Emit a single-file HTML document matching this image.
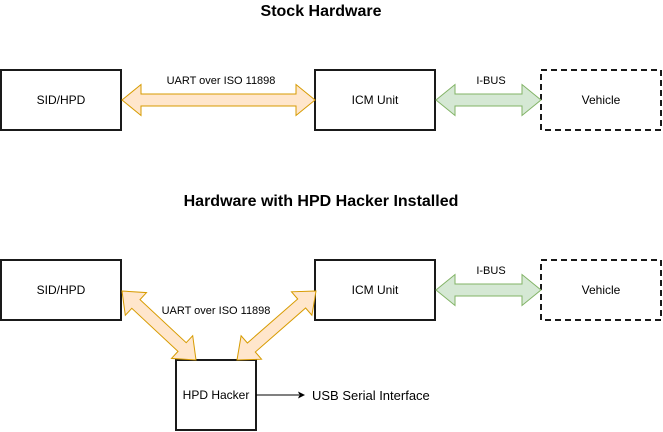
<!DOCTYPE html>
<html><head><meta charset="utf-8"><style>
html,body{margin:0;padding:0;background:#fff;}
svg{display:block;font-family:"Liberation Sans",sans-serif;}
</style></head><body>
<svg id="s" width="663" height="432" viewBox="0 0 663 432" xmlns="http://www.w3.org/2000/svg">
<text x="321" y="16" font-size="16" font-weight="bold" text-anchor="middle">Stock Hardware</text>
<text x="321" y="206" font-size="16" font-weight="bold" text-anchor="middle">Hardware with HPD Hacker Installed</text>
<g fill="#fff" stroke="#1a1a1a" stroke-width="2">
<rect x="1" y="70" width="120" height="60"/>
<rect x="315" y="70" width="120" height="60"/>
<rect x="541" y="70" width="120" height="60" stroke-dasharray="6 4"/>
<rect x="1" y="260" width="120" height="60"/>
<rect x="315" y="260" width="120" height="60"/>
<rect x="541" y="260" width="120" height="60" stroke-dasharray="6 4"/>
<rect x="176" y="360" width="80" height="70"/>
</g>
<g id="arrows"></g>
<g font-size="12" text-anchor="middle" fill="#000">
<text x="61" y="104">SID/HPD</text>
<text x="375" y="104">ICM Unit</text>
<text x="601" y="104">Vehicle</text>
<text x="61" y="294">SID/HPD</text>
<text x="375" y="294">ICM Unit</text>
<text x="601" y="294">Vehicle</text>
<text x="216" y="399">HPD Hacker</text>
</g>
<g font-size="11" text-anchor="middle">
<text x="221" y="84">UART over ISO 11898</text>
<text x="491" y="84">I-BUS</text>
<text x="491" y="274">I-BUS</text>
<text x="216" y="314">UART over ISO 11898</text>
</g>
<line x1="256" y1="395" x2="299" y2="395" stroke="#000" stroke-width="1"/>
<polygon points="305,395 298,391.5 299.5,395 298,398.5" fill="#000"/>
<text x="312" y="400" font-size="13">USB Serial Interface</text>
</svg>
<script>
function dbl(x1,y1,x2,y2,fill,stroke){
 var dx=x2-x1,dy=y2-y1,L=Math.sqrt(dx*dx+dy*dy),ux=dx/L,uy=dy/L,nx=-uy,ny=ux;
 var w=6,h=15.5,hl=19;
 var pts=[[0,0],[hl,h],[hl,w],[L-hl,w],[L-hl,h],[L,0],[L-hl,-h],[L-hl,-w],[hl,-w],[hl,-h]];
 var s=pts.map(function(p){return (x1+ux*p[0]+nx*p[1]).toFixed(1)+","+(y1+uy*p[0]+ny*p[1]).toFixed(1);}).join(" ");
 var g=document.getElementById("arrows");
 var e=document.createElementNS("http://www.w3.org/2000/svg","polygon");
 e.setAttribute("points",s);e.setAttribute("fill",fill);e.setAttribute("stroke",stroke);e.setAttribute("stroke-width","1");
 g.appendChild(e);
}
dbl(122,100,315,100,"#ffe6cc","#d79b00");
dbl(436,100,541,100,"#d5e8d4","#82b366");
dbl(436,290,541,290,"#d5e8d4","#82b366");
dbl(122,291,196,360,"#ffe6cc","#d79b00");
dbl(316,291,237,360,"#ffe6cc","#d79b00");
</script>
</body></html>
